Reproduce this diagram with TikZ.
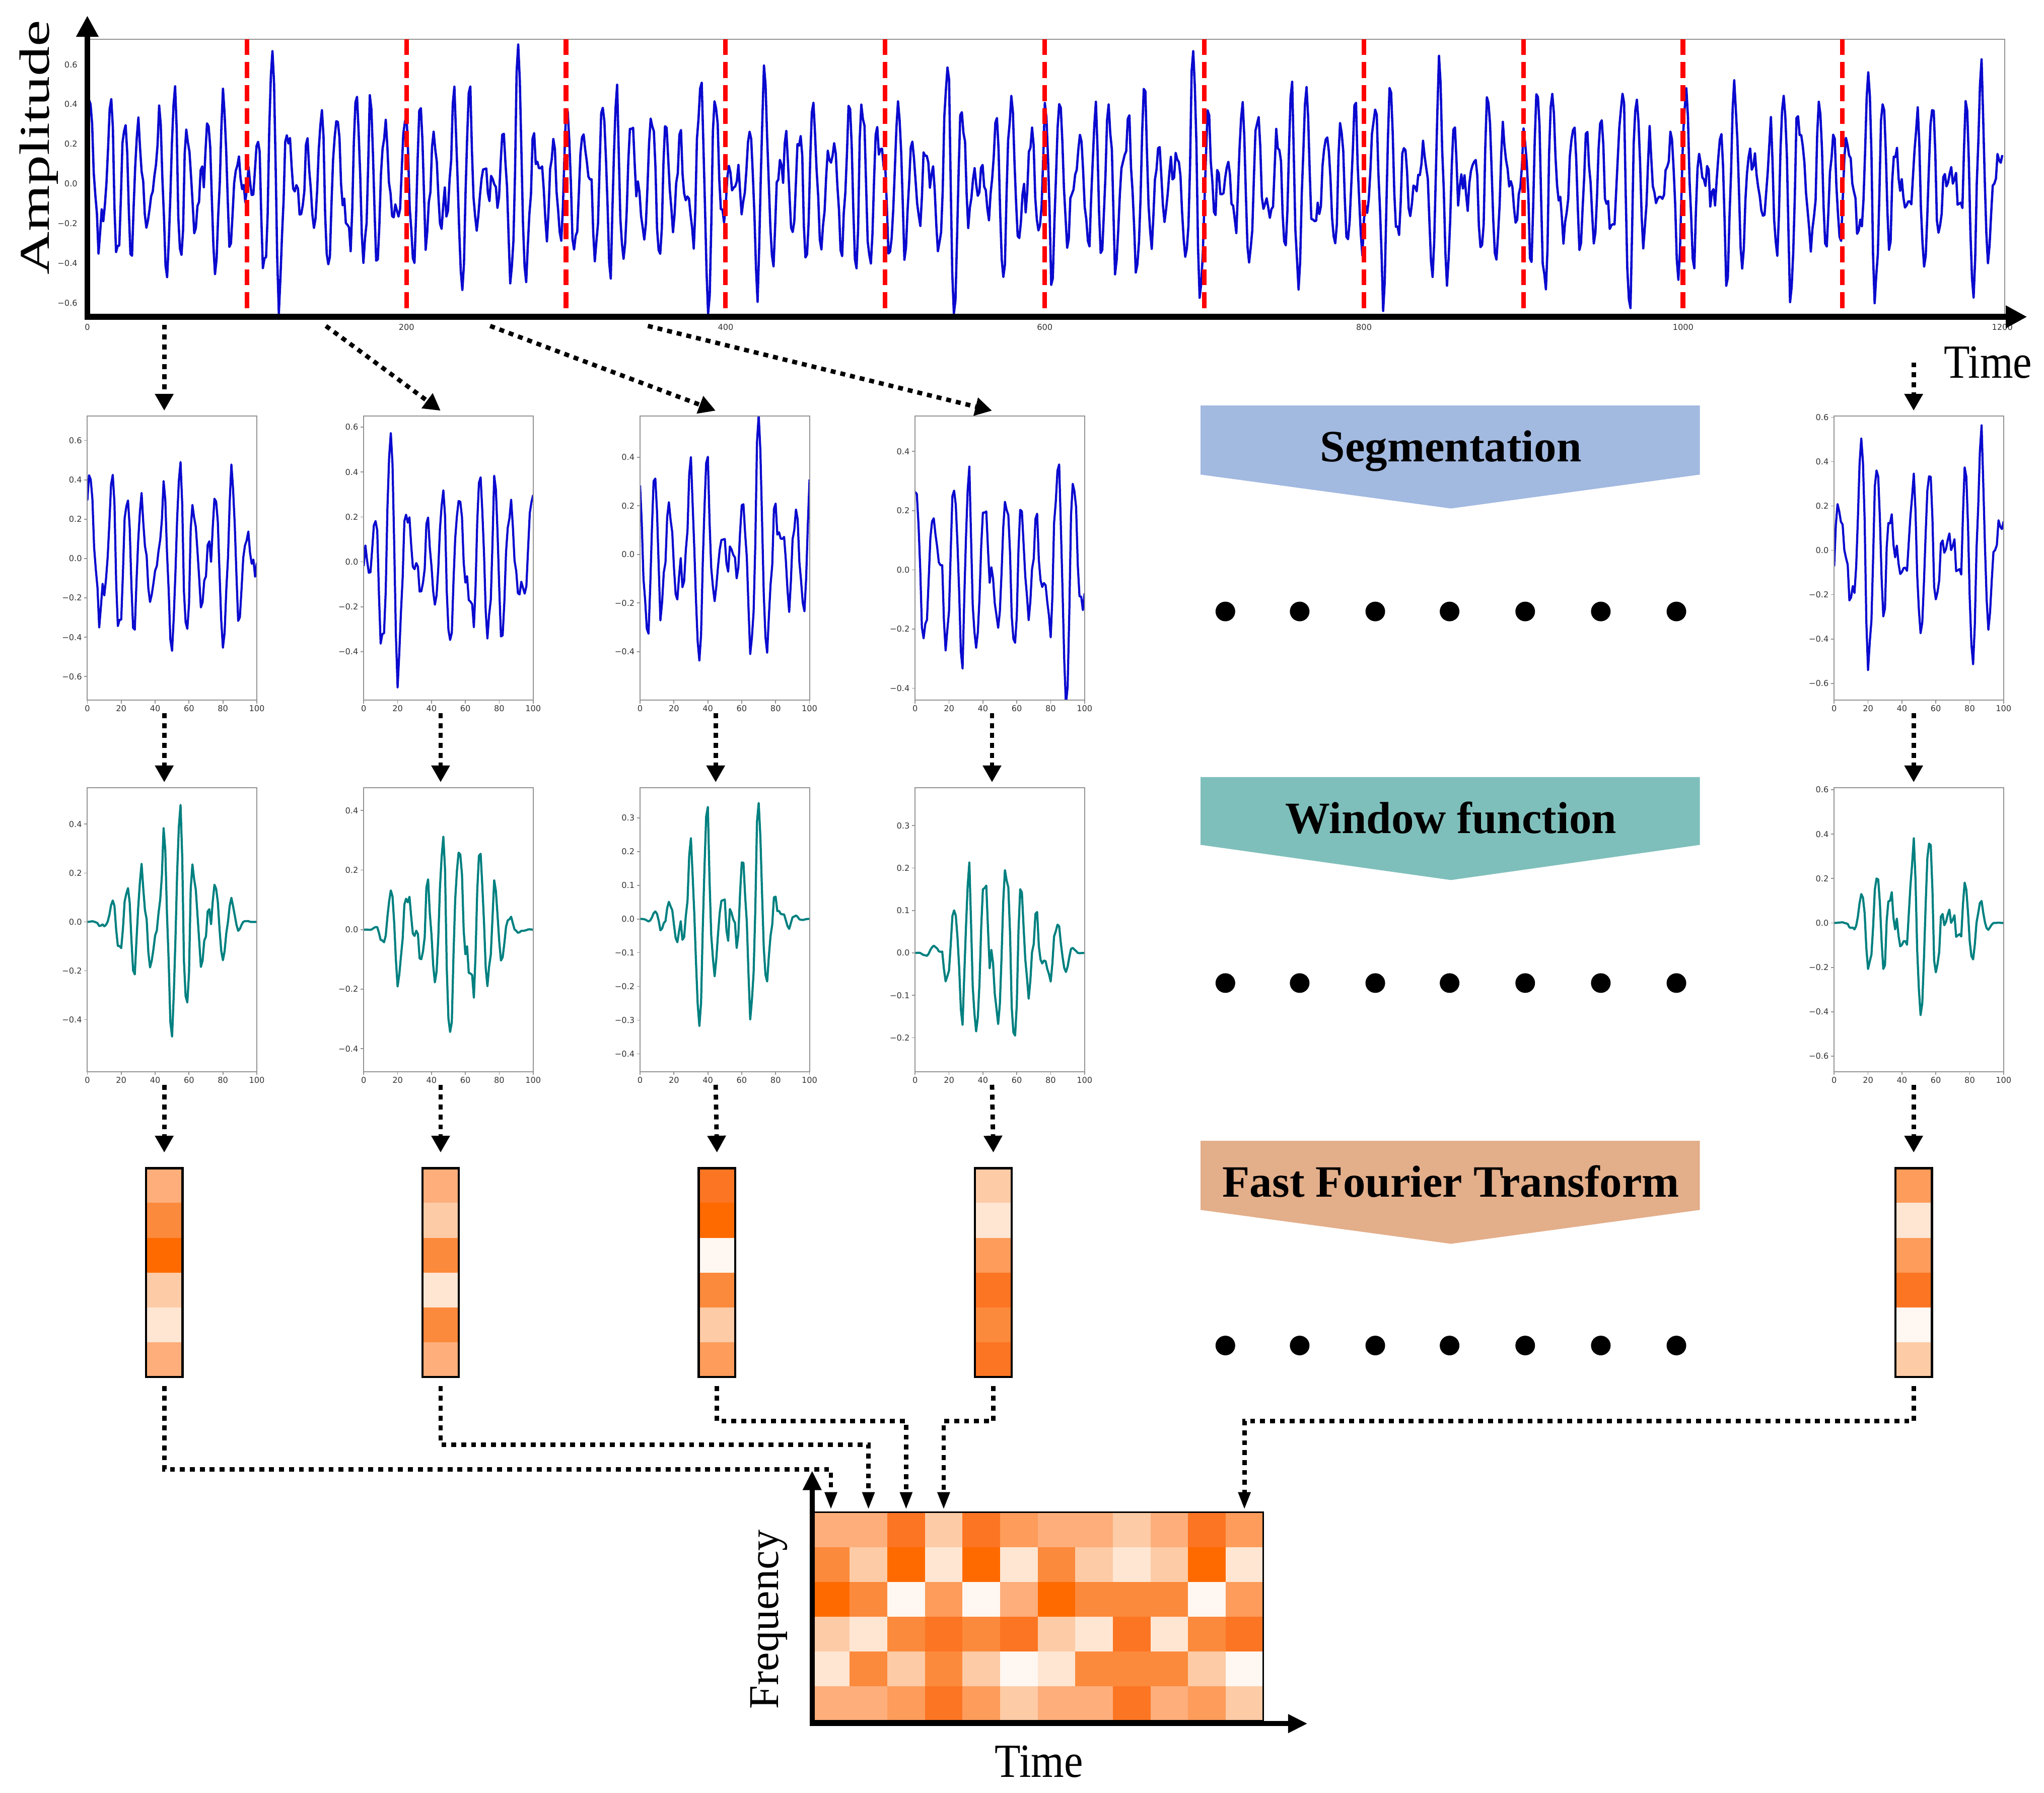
\documentclass[tikz,border=0pt]{standalone}
\usepackage{fontspec}
\setmainfont{Liberation Serif}
\newfontfamily\tickfont{DejaVu Sans}
\usetikzlibrary{arrows.meta,calc}
\definecolor{sigblue}{HTML}{0A0ACF}
\definecolor{sigteal}{HTML}{008080}
\definecolor{segcol}{HTML}{A2B9E0}
\definecolor{wincol}{HTML}{7FBFBB}
\definecolor{fftcol}{HTML}{E3AE8A}
\definecolor{lv0}{HTML}{FFF7F1}
\definecolor{lv1}{HTML}{FEE6D3}
\definecolor{lv2}{HTML}{FDCBA6}
\definecolor{lv3}{HTML}{FDAE7B}
\definecolor{lv4}{HTML}{FD9C5B}
\definecolor{lv5}{HTML}{FC8A3C}
\definecolor{lv6}{HTML}{FC7523}
\definecolor{lv7}{HTML}{FF6A00}

% #1 name, #2 left x, #3 top y, #4 vmin, #5 vmax, #6 expression in \t, #7 colour, #8 y ticks value/label
\newcommand{\miniplot}[8]{%
  \pgfmathsetmacro{\ys}{218/((#5)-(#4))}%
  \begin{scope}
    \clip (#2,#3) rectangle ++(130,218);
    \draw[#7, line width=1.2pt, line join=round]
      plot[domain=0:100, samples=101, variable=\t] ({#2+1.3*\t},{#3+\ys*((#5)-(#6))});
  \end{scope}
  \node[plotframe] (#1) at ({#2+65},{#3+109}) {};
  \foreach \v/\l [count=\n] in {#8} {
    \draw[tickmark] ({#2},{#3+\ys*((#5)-(\v))}) -- ++(-2.5,0)
      node[ticklab, anchor=east] (#1y\n) {\l};
  }
  \foreach \xv [count=\n] in {0,20,40,60,80,100} {
    \draw[tickmark] ({#2+1.3*\xv},{#3+218}) -- ++(0,2.5)
      node[ticklab, anchor=north] (#1x\n) {\xv};
  }
}

% #1 name, #2 left x, #3 colour levels top to bottom
\newcommand{\fftcolumn}[3]{%
  \foreach \c [count=\r] in {#3} {
    \fill[lv\c] ({#2},{896+(\r-1)*26.667}) rectangle ++(28,27.2);
  }
  \node[fftframe] (#1) at ({#2+14},976) {};
}

\begin{document}
\begin{tikzpicture}[x=0.25887mm, y=-0.25887mm,
  declare function={
    sig(\a)=(0.9+0.2*sin(360*mod(\a/53,1)+20))*(0.3*sin(360*mod(\a/10.3,1))
      +0.2*sin(360*mod(\a/7.7,1)+75)+0.12*sin(360*mod(\a/14.1,1)+40)
      +0.05*sin(360*mod(\a/5.1,1)+120)+0.04*sin(360*mod(\a/3.3,1)+200)
      +0.03*sin(360*mod(\a/2.63,1)+10));
    win(\a)=0.5*(1-cos(3.6*\a));
  },
  plotframe/.style={draw=gray!85, line width=0.6pt, minimum width=130*0.25887mm,
    minimum height=218*0.25887mm, inner sep=0pt, outer sep=0pt},
  fftframe/.style={draw=black, line width=1.2pt, minimum width=28*0.25887mm,
    minimum height=160*0.25887mm, inner sep=0pt, outer sep=0pt},
  tickmark/.style={draw=gray!85, line width=0.5pt},
  ticklab/.style={font=\tickfont\fontsize{4.6}{5}\selectfont, text=black!80, inner sep=1pt},
  conn/.style={line width=2.5pt, dash pattern=on 2.8pt off 2.8pt,
    -{Triangle[width=10pt,length=9.5pt]}},
  conn2/.style={line width=2.5pt, dash pattern=on 2.8pt off 2.8pt,
    -{Triangle[width=6.5pt,length=10pt]}},
  axisline/.style={line width=3.3pt},
  redline/.style={red, line width=2.6pt, dash pattern=on 9pt off 4pt},
  bigtext/.style={font=\fontsize{24}{28}\selectfont, inner sep=0pt},
  bannertext/.style={font=\fontsize{25.3}{30}\selectfont\bfseries, inner sep=0pt},
  dot/.style={fill=black}
]
\useasboundingbox (0,0) rectangle (1568,1375);

% ---------------- top signal plot ----------------
\begin{scope}
  \clip (67,30) rectangle (1538,243);
  \draw[sigblue, line width=1.3pt, line join=round]
    plot[domain=0:1200, samples=1201, variable=\t] ({67+1.22417*\t},{141-152.5*sig(\t)});
\end{scope}
\node[draw=gray!85, line width=0.6pt, minimum width=1471*0.25887mm,
  minimum height=213*0.25887mm, inner sep=0pt, outer sep=0pt] (topplot) at (802.5,136.5) {};
\foreach \k in {1,...,11} {
  \draw[redline] ({67+122.4*\k},30) -- ({67+122.4*\k},243);
}
\foreach \v/\l [count=\n] in {0.6/0.6,0.4/0.4,0.2/0.2,0/0.0,-0.2/−0.2,-0.4/−0.4,-0.6/−0.6} {
  \node[ticklab, anchor=east] (topy\n) at (61,{141-152.5*(\v)}) {\l};
}
\foreach \xv [count=\n] in {0,200,400,600,800,1000,1200} {
  \node[ticklab, anchor=north] (topx\n) at ({67+1.22417*\xv},247) {\xv};
}
\draw[axisline, -{Triangle[width=12pt,length=12pt]}]
  ($(topplot.south west)+(0,2)$) -- ($(topplot.north west)+(0,-18)$);
\draw[axisline, -{Triangle[width=12pt,length=12pt]}]
  ($(topplot.south west)+(-2,0)$) -- ($(topplot.south east)+(17,0)$);
\node[bigtext, rotate=90] (amp) at (30,113) {\scalebox{1.4}[1]{Amplitude}};
\node[bigtext, anchor=base] (timetop) at (1525,290) {\scalebox{1}[1.12]{Time}};

% ---------------- segments ----------------
\miniplot{s1}{67}{319}{-0.72}{0.725}{1.0*sig(\t)}{sigblue}{0.6/0.6,0.4/0.4,0.2/0.2,0/0.0,-0.2/−0.2,-0.4/−0.4,-0.6/−0.6}
\miniplot{s2}{279}{319}{-0.616}{0.65}{0.86*sig(\t+100)}{sigblue}{0.6/0.6,0.4/0.4,0.2/0.2,0/0.0,-0.2/−0.2,-0.4/−0.4}
\miniplot{s3}{491}{319}{-0.60}{0.57}{0.82*sig(\t+200)}{sigblue}{0.4/0.4,0.2/0.2,0/0.0,-0.2/−0.2,-0.4/−0.4}
\miniplot{s4}{702}{319}{-0.44}{0.52}{0.7*sig(\t+300)}{sigblue}{0.4/0.4,0.2/0.2,0/0.0,-0.2/−0.2,-0.4/−0.4}
\miniplot{s5}{1407}{319}{-0.676}{0.606}{0.9*sig(\t+1100)}{sigblue}{0.6/0.6,0.4/0.4,0.2/0.2,0/0.0,-0.2/−0.2,-0.4/−0.4,-0.6/−0.6}

% ---------------- windowed ----------------
\miniplot{w1}{67}{604}{-0.613}{0.55}{1.0*sig(\t)*win(\t)}{sigteal}{0.4/0.4,0.2/0.2,0/0.0,-0.2/−0.2,-0.4/−0.4}
\miniplot{w2}{279}{604}{-0.477}{0.477}{0.85*sig(\t+100)*win(\t)}{sigteal}{0.4/0.4,0.2/0.2,0/0.0,-0.2/−0.2,-0.4/−0.4}
\miniplot{w3}{491}{604}{-0.453}{0.39}{0.75*sig(\t+200)*win(\t)}{sigteal}{0.3/0.3,0.2/0.2,0.1/0.1,0/0.0,-0.1/−0.1,-0.2/−0.2,-0.3/−0.3,-0.4/−0.4}
\miniplot{w4}{702}{604}{-0.28}{0.39}{0.6*sig(\t+300)*win(\t)}{sigteal}{0.3/0.3,0.2/0.2,0.1/0.1,0/0.0,-0.1/−0.1,-0.2/−0.2}
\miniplot{w5}{1407}{604}{-0.67}{0.61}{1.0*sig(\t+1100)*win(\t)}{sigteal}{0.6/0.6,0.4/0.4,0.2/0.2,0/0.0,-0.2/−0.2,-0.4/−0.4,-0.6/−0.6}

% ---------------- FFT columns ----------------
\fftcolumn{f1}{112}{3,5,7,2,1,3}
\fftcolumn{f2}{324}{3,2,5,1,5,3}
\fftcolumn{f3}{536}{6,7,0,5,2,4}
\fftcolumn{f4}{748}{2,1,4,6,5,6}
\fftcolumn{f5}{1454}{4,1,4,6,0,2}

% ---------------- banners ----------------
\fill[segcol] (921,311) -- (1304,311) -- (1304,364) -- (1113,390) -- (921,364) -- cycle;
\node[bannertext, anchor=base] (segtext) at (1113,354) {Segmentation};
\fill[wincol] (921,596) -- (1304,596) -- (1304,648) -- (1113,675) -- (921,648) -- cycle;
\node[bannertext, anchor=base] (wintext) at (1113,639) {Window function};
\fill[fftcol] (921,875) -- (1304,875) -- (1304,928) -- (1113,954) -- (921,928) -- cycle;
\node[bannertext, anchor=base] (ffttext) at (1113,918) {Fast Fourier Transform};

\foreach \yy in {469,754,1032} {
  \foreach \xx in {940,997,1055,1112,1170,1228,1286} {
    \fill[dot] (\xx,\yy) circle[radius=1.95mm];
  }
}

% ---------------- spectrogram ----------------
\foreach \row [count=\r] in {{3,3,6,2,6,4,3,3,2,3,6,4},{5,2,7,1,7,1,5,2,1,2,7,1},{7,5,0,4,0,3,7,5,5,5,0,4},{2,1,5,6,5,6,2,1,6,1,5,6},{1,5,2,5,2,0,1,5,5,5,2,0},{3,3,4,6,4,2,3,3,6,3,4,2}} {
  \foreach \c [count=\i] in \row {
    \fill[lv\c] ({623+(\i-1)*28.833},{1160+(\r-1)*26.667}) rectangle ++(29.3,27.1);
  }
}
\node[draw=black, line width=0.9pt, minimum width=346*0.25887mm, minimum height=160*0.25887mm,
  inner sep=0pt, outer sep=0pt] (spec) at (796,1240) {};
\draw[axisline, line width=2.8pt, -{Triangle[width=10pt,length=11pt]}]
  ($(spec.south west)+(0,2)$) -- ($(spec.north west)+(0,-32)$);
\draw[axisline, line width=2.8pt, -{Triangle[width=10pt,length=11pt]}]
  ($(spec.south west)+(-2,2)$) -- ($(spec.south east)+(34,2)$);
\node[bigtext, rotate=90] (freq) at (590,1242) {Frequency};
\node[bigtext, anchor=base] (timebot) at (797,1363) {\scalebox{1}[1.12]{Time}};

% ---------------- connectors ----------------
\draw[conn] ($(topplot.south west)+(59,6)$) -- ($(s1.north west)+(59,-4)$);
\draw[conn] ($(topplot.south west)+(183,7)$) -- ($(s2.north west)+(59,-4)$);
\draw[conn] ($(topplot.south west)+(309,7)$) -- ($(s3.north west)+(58,-4)$);
\draw[conn] ($(topplot.south west)+(430,7)$) -- ($(s4.north west)+(59,-4)$);
\draw[conn] ($(topplot.south west)+(1401,35)$) -- ($(s5.north west)+(61,-4)$);

\foreach \n/\dx in {1/59,2/59,3/58,4/59,5/61} {
  \draw[conn] ($(s\n.south west)+(\dx,10)$) -- ($(w\n.north west)+(\dx,-4)$);
  \draw[conn] ($(w\n.south west)+(\dx,10)$) -- ($(f\n.north)+(0,-12)$);
}

\draw[conn2] ($(f1.south)+(0,7)$) |- ($(spec.north west)+(14.4,-33)$) -- ($(spec.north west)+(14.4,-2)$);
\draw[conn2] ($(f2.south)+(0,7)$) |- ($(spec.north west)+(43.2,-52)$) -- ($(spec.north west)+(43.2,-2)$);
\draw[conn2] ($(f3.south)+(0,7)$) |- ($(spec.north west)+(72.1,-70)$) -- ($(spec.north west)+(72.1,-2)$);
\draw[conn2] ($(f4.south)+(0,7)$) |- ($(spec.north west)+(100.9,-70)$) -- ($(spec.north west)+(100.9,-2)$);
\draw[conn2] ($(f5.south)+(0,7)$) |- ($(spec.north west)+(331.6,-70)$) -- ($(spec.north west)+(331.6,-2)$);
\end{tikzpicture}
\end{document}
